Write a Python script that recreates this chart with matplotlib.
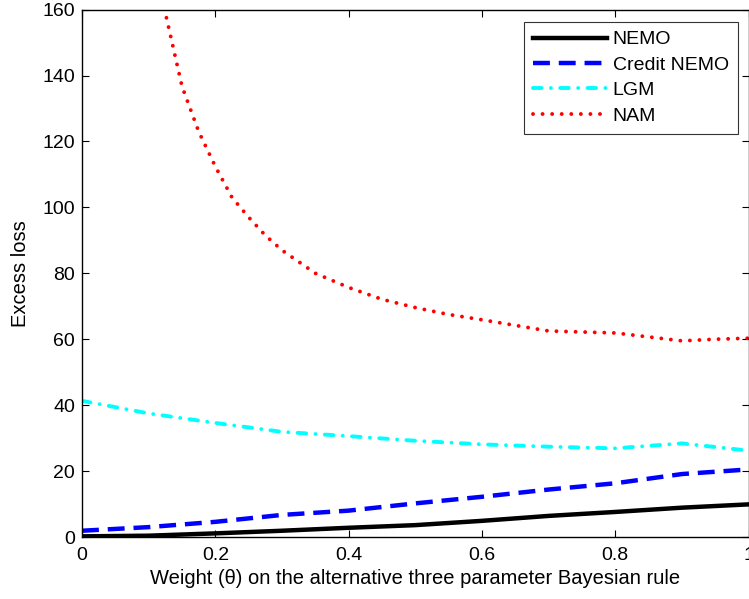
import numpy as np
import matplotlib
matplotlib.use("Agg")
import matplotlib.pyplot as plt

# -------------------------------
# data
# -------------------------------
theta = [0.0, 0.1, 0.2, 0.3, 0.4, 0.5, 0.6, 0.7, 0.8, 0.9, 1.0]
nemo = [0.2, 0.4, 1.1, 1.9, 2.8, 3.6, 4.9, 6.4, 7.6, 8.9, 9.9]
credit_nemo = [1.9, 3.0, 4.6, 6.7, 8.0, 10.2, 12.2, 14.4, 16.3, 19.1, 20.5]
lgm = [41.3, 37.5, 34.6, 31.9, 30.6, 29.2, 28.1, 27.4, 26.9, 28.4, 26.2]

theta_nam = [0.100, 0.125, 0.150, 0.175, 0.200, 0.225, 0.250, 0.275, 0.30,
             0.35, 0.40, 0.45, 0.50, 0.55, 0.60, 0.65, 0.70, 0.75, 0.80,
             0.85, 0.90, 0.95, 1.00]
nam = [185.0, 159.0, 136.7, 123.0, 112.4, 103.0, 97.0, 91.5, 87.0,
       80.0, 75.7, 72.1, 69.6, 67.5, 65.9, 64.2, 62.5, 62.2, 61.9,
       60.7, 59.5, 60.0, 60.3]

xticks = [0, 0.2, 0.4, 0.6, 0.8, 1]
xticklabels = ["0", "0.2", "0.4", "0.6", "0.8", "1"]
yticks = [0, 20, 40, 60, 80, 100, 120, 140, 160]

# -------------------------------
# style
# -------------------------------
plt.rcParams["font.family"] = ["Liberation Sans", "DejaVu Sans"]
plt.rcParams["font.size"] = 14

fig = plt.figure(figsize=(7.49, 5.99), dpi=100)
ax = fig.add_axes([0.1095, 0.1035, 0.8900, 0.8805])

ax.plot(theta, nemo, color="black", lw=3.2, ls="-", label="NEMO")
ax.plot(theta, credit_nemo, color="blue", lw=3.2, ls=(0, (3.8, 2.0)),
        label="Credit NEMO")
ax.plot(theta, lgm, color="cyan", lw=2.8, ls=(0, (2.2, 2.4, 0.01, 2.4)),
        dash_capstyle="round", label="LGM")
ax.plot(theta_nam, nam, color="red", lw=2.8, ls=(0, (0.01, 2.45)),
        dash_capstyle="round", label="NAM")

ax.set_xlim(0, 1)
ax.set_ylim(0, 160)
ax.set_xticks(xticks)
ax.set_xticklabels(xticklabels)
ax.set_yticks(yticks)
ax.tick_params(direction="in", top=True, right=True, length=5, width=0.8,
               labelsize=14)
ax.tick_params(axis="x", pad=7)
ax.tick_params(axis="y", pad=5)
for sp in ax.spines.values():
    sp.set_linewidth(1.0)

ax.set_xlabel("Weight (\u03b8) on the alternative three parameter Bayesian rule",
              fontsize=14.5, labelpad=4)
ax.set_ylabel("Excess loss", fontsize=14.5, labelpad=9)

leg = ax.legend(loc="upper right", bbox_to_anchor=(0.984, 0.977),
                fontsize=14, frameon=True, fancybox=False, edgecolor="black",
                handlelength=3.8, handletextpad=0.3, borderpad=0.47,
                labelspacing=0.4, borderaxespad=0.0)
leg.get_frame().set_linewidth(0.8)

fig.savefig("out.png", dpi=100)
